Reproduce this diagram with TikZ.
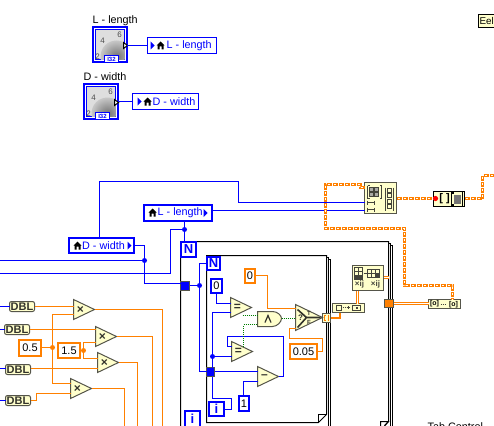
\documentclass[tikz,border=0pt]{standalone}
\usepackage{fontspec}
\setmainfont{Liberation Sans}
\usetikzlibrary{calc}
\definecolor{lvblue}{HTML}{0000FF}
\definecolor{lvorange}{HTML}{FF8000}
\definecolor{lvyellow}{HTML}{FFFFCC}
\definecolor{lvgrey}{HTML}{55554A}
\definecolor{lvgreen}{HTML}{007F00}
\tikzset{
  lbl/.style={font=\fontsize{10.8}{12}\selectfont,inner sep=0pt},
  small/.style={font=\fontsize{8}{9}\selectfont,inner sep=0pt},
  bw/.style={draw=lvblue,line width=1pt},
  ow/.style={draw=lvorange,line width=1pt},
  owthick/.style={draw=lvorange,line width=2pt},
  owdouble/.style={draw=lvorange,line width=1pt,double=white,double distance=1pt},
  gw/.style={draw=lvgreen,line width=1pt,dash pattern=on 1pt off 1pt},
  cluster/.style={draw=lvorange,line width=3pt,dash pattern=on 5pt off 1pt},
  clusterc/.style={draw=white,line width=1pt,dash pattern=on 2pt off 4pt,dash phase=4.5pt},
  bxbase/.style={inner sep=0pt,outer sep=0pt,font=\fontsize{11}{12}\selectfont},
  frameb/.style={bxbase,draw=lvblue,line width=2pt,fill=white},
  framen/.style={frameb,text=lvblue,font=\fontsize{13}{14}\bfseries\selectfont},
  frameo/.style={bxbase,draw=lvorange,line width=2pt,fill=white},
  termthin/.style={bxbase,draw=lvblue,line width=1pt,fill=white},
  ynode/.style={bxbase,draw=lvgrey,line width=1pt,fill=lvyellow},
  dbl/.style={bxbase,draw=lvgrey,line width=1pt,fill=lvyellow,rounded corners=2pt,text=lvgrey!60!black,font=\fontsize{11}{11}\bfseries\selectfont},
  tunb/.style={bxbase,draw=lvgrey,line width=1pt,fill=lvblue},
  tuno/.style={bxbase,draw=lvgrey,line width=1pt,fill=lvorange},
  jdot/.style={circle,fill=lvblue,inner sep=0pt,minimum size=5pt},
  jodot/.style={circle,fill=lvorange,inner sep=0pt,minimum size=5pt},
  loopline/.style={draw=black,line width=1pt},
  icon/.style={draw=lvgrey!80!black,line width=.8pt},
  gatefill/.style={draw=lvgrey,line width=1pt,fill=lvyellow},
  symb/.style={inner sep=0pt,text=lvgrey!60!black,font=\fontsize{12}{12}\bfseries\selectfont},
}
% boxes given by outer extents: 2pt frame, 1pt frame
\newcommand\bx[7][]{\node[#1,minimum width={(#5-#3-1)*1pt},minimum height={(#6-#4-1)*1pt}] (#2) at ({(#3+#5)/2},{(#4+#6)/2}) {#7};}
\newcommand\bxt[7][]{\node[#1,minimum width={(#5-#3)*1pt},minimum height={(#6-#4)*1pt}] (#2) at ({(#3+#5)/2},{(#4+#6)/2}) {#7};}
% triangle gate: name, left, top, tip, bottom, symbol
\newcommand\gate[6]{%
  \draw[gatefill] (#2,#3) -- (#4,{(#3+#5)/2}) -- (#2,#5) -- cycle;
  \node[inner sep=0pt,outer sep=0pt,minimum width={(#4-#2)*1pt},minimum height={(#5-#3)*1pt}] (#1) at ({(#2+#4)/2},{(#3+#5)/2}) {};
  \node[symb] at ({#2+(#4-#2)*0.33},{(#3+#5)/2}) {#6};}
% house icon
\newcommand\house[2]{\fill[black] ({#1-4},{#2}) -- ({#1},{#2-4}) -- ({#1+4},{#2}) -- ({#1+3},{#2}) -- ({#1+3},{#2+4}) -- ({#1+1},{#2+4}) -- ({#1+1},{#2+1}) -- ({#1-1},{#2+1}) -- ({#1-1},{#2+4}) -- ({#1-3},{#2+4}) -- ({#1-3},{#2}) -- cycle;}
% dial control
\newcommand\dial[3]{%
\begin{scope}[shift={(#2,#3)}]
  \node[bxbase,draw=lvblue,line width=2pt,fill=white,minimum width=34pt,minimum height=35pt] (#1) at (17.5,18) {};
  \draw[lvblue,line width=1pt,fill=black!13] (3,3) rectangle (32,33);
  \begin{scope}
    \clip (4,4) rectangle (32,33);
    \shade[inner color=black!55,outer color=black!22] (24,30) circle (16);
  \end{scope}
  \node[small,text=black!70] at (27,8) {6};
  \node[small,text=black!70] at (10,14) {4};
  \node[small,text=black!70] at (5,30) {2};
  \draw[lvblue,line width=1pt,fill=white] (12,29) rectangle (26,36);
  \node[inner sep=0pt,text=lvblue,font=\fontsize{6}{6}\bfseries\selectfont] at (19,32.5) {I32};
  \draw[black,line width=1pt,fill=white] (31,16) -- (35,19) -- (31,22) -- cycle;
\end{scope}}
\begin{document}
\begin{tikzpicture}[x=1pt,y=-1pt]
\useasboundingbox (0,0) rectangle (494,425);
\begin{scope}
\clip (0,0) rectangle (494,425);
\begin{scope}[shift={(0.5,0.5)}]

% ---- loop frames
\draw[loopline] (180,430) -- (180,241) -- (388,241) -- (388,421) -- (384,425);
\draw[loopline] (388,243) -- (390,243) -- (390,430);
\draw[loopline] (390,245) -- (392,245) -- (392,430);
\draw[loopline] (380,430) -- (380,421) -- (388,421) -- (380,430);
\draw[loopline] (206,255) -- (326,255) -- (326,414) -- (318,422) -- (206,422) -- cycle;
\draw[loopline] (318,422) -- (318,414) -- (326,414);
\draw[loopline] (326,257) -- (328,257) -- (328,430);
\draw[loopline] (328,259) -- (330,259) -- (330,430);

% ---- top controls
\node[lbl,anchor=base west] (capL) at (92,23) {L - length};
\node[lbl,anchor=base west] (capD) at (83,80) {D - width};
\dial{ctlL}{92}{26}
\dial{ctlD}{83}{83}
\bxt[termthin]{termL}{147}{37}{216}{53}{}
\fill[lvblue] (150,41) -- (154,45) -- (150,49) -- cycle;
\house{160}{45}
\node[lbl,text=lvblue,anchor=west] (txtL) at (166,45) {L - length};
\bxt[termthin]{termD}{132}{93}{198}{109}{}
\fill[lvblue] (137,97) -- (141,101) -- (137,105) -- cycle;
\house{147}{101}
\node[lbl,text=lvblue,anchor=west] (txtD) at (152,101) {D - width};
% Eel box
\bxt[bxbase,draw=black,line width=1pt,fill=lvyellow]{eel}{478}{14}{510}{27}{}
\node[inner sep=0pt,font=\fontsize{9.8}{11}\selectfont,anchor=west] (eeltxt) at (479,20.5) {Eel};

% ---- locals
\bx[frameb]{lw}{143}{204}{212}{221}{}
\house{152}{212}
\node[lbl,text=lvblue,anchor=west] (lwt) at (157,212.5) {L - length};
\fill[lvblue] (203,208.5) -- (207,212.5) -- (203,216.5) -- cycle;
\bx[frameb]{dw}{68}{237}{134}{253}{}
\house{77}{245}
\node[lbl,text=lvblue,anchor=west] (dwt) at (81.5,245) {D - width};
\fill[lvblue] (127,241) -- (131,245) -- (127,249) -- cycle;

% ---- loop terminals and tunnels
\bx[framen]{Nout}{180}{241}{196}{257}{N}
\bx[framen]{iout}{184}{410}{200}{427}{i}
\bx[framen]{Nin}{206}{256}{220}{270}{N}
\bx[framen]{iin}{208}{401}{224}{416}{i}
\bxt[tunb]{tunB}{180}{281}{189}{290}{}
\bxt[tunb]{tunI}{206}{367}{214}{376}{}
\bxt[ynode]{tunO}{322}{313}{330}{322}{}
\draw[lvorange,line width=1pt] (325,315) -- (324,315) -- (324,320) -- (325,320) (327,315) -- (328,315) -- (328,320) -- (327,320);
\bxt[tuno]{tunR}{384}{299}{393}{307}{}

% ---- constants
\bx[frameo]{c05}{18}{339}{41}{356}{0.5}
\bx[frameo]{c15}{57}{342}{80}{358}{1.5}
\bx[frameo]{czero}{244}{268}{255}{283}{0}
\bx[frameo]{cfive}{289}{343}{317}{359}{0.05}
\bx[frameb]{cbz}{210}{278}{222}{293}{0}
\bx[frameb]{cone}{238}{395}{249}{411}{1}

% ---- DBL conversions
\bxt[dbl]{d1}{9}{301}{34}{311}{DBL}
\bxt[dbl]{d2}{4}{324}{29}{334}{DBL}
\bxt[dbl]{d3}{5}{364}{30}{374}{DBL}
\bxt[dbl]{d4}{5}{395}{30}{405}{DBL}

% ---- gates
\gate{t1}{73}{299}{94}{319}{×}
\gate{t2}{95}{326}{116}{346}{×}
\gate{t3}{97}{352}{118}{372}{×}
\gate{t4}{70}{378}{91}{398}{×}
\gate{eq1}{230}{297}{251}{317}{=}
\gate{eq2}{231}{341}{252}{361}{=}
\gate{mn}{257}{366}{278}{386}{–}
\gate{sel}{295}{304}{322}{330}{}
\draw[lvgrey!60!black,line width=1.6pt] (297,309) -- (306,317) -- (320,317) (297,327) -- (306,317);
\node[inner sep=0pt,font=\fontsize{8}{8}\bfseries\selectfont,text=lvgrey!60!black] (selq) at (300,317.5) {?};
\node[inner sep=0pt,font=\fontsize{6}{6}\bfseries\selectfont,text=lvgrey!60!black] (selt) at (308.5,313) {T};
\node[inner sep=0pt,font=\fontsize{6}{6}\bfseries\selectfont,text=lvgrey!60!black] (self) at (308.5,321.5) {F};
% AND
\draw[gatefill] (257,311) -- (272,311) .. controls (277,311) and (281,315) .. (281,318) .. controls (281,321) and (277,326) .. (272,326) -- (257,326) -- cycle;
\node[inner sep=0pt,outer sep=0pt,minimum width=24pt,minimum height=15pt] (aand) at (269,318.5) {};
\draw[lvgrey!60!black,line width=1.2pt] (264.5,322) -- (267.5,315) -- (270.5,322);

% ---- converter and array nodes
\bxt[ynode]{conv}{332}{303}{364}{312}{}
\draw[icon,line width=1pt] (336,305) rectangle (341,310);
\draw[icon,line width=1pt,dash pattern=on 1pt off 1pt] (342,307) -- (348,307);
\draw[icon] (346,307) -- (349,307) (347.5,305.5) -- (347.5,308.5);
\draw[icon,line width=1pt] (352,305) rectangle (360,310);
\fill[lvgrey!80!black] (355,306.8) rectangle (357,308);
\bxt[ynode]{mat}{352}{265}{383}{290}{}
\draw[icon] (354,267) rectangle (362,279) (358,267) -- (358,279) (354,271) -- (362,271) (354,275) -- (362,275);
\fill[lvgrey!80!black] (354,275) rectangle (362,279);
\draw[icon] (367,269) rectangle (379,277) (371,269) -- (371,277) (375,269) -- (375,277) (367,273) -- (379,273);
\fill[lvgrey!80!black] (375,273) rectangle (379,277);
\draw[icon] (363,273) -- (367,273);
\node[inner sep=0pt,font=\fontsize{8}{8}\bfseries\selectfont,text=lvgrey!80!black] (matij) at (359,284) {×ij};
\node[inner sep=0pt,font=\fontsize{8}{8}\bfseries\selectfont,text=lvgrey!80!black] (matij2) at (375,284) {×ij};
\bxt[ynode]{clu}{428}{299}{460}{308}{}
\node[inner sep=0pt,font=\fontsize{7}{7}\bfseries\selectfont] (clua) at (434,303) {[o]};
\node[inner sep=0pt,font=\fontsize{7}{7}\bfseries\selectfont] (club) at (453,304) {[o]};
\draw[icon,dash pattern=on 1pt off 1pt] (440,304) -- (445,304);
\bxt[ynode]{bld}{364}{182}{396}{213}{}
\draw[icon] (367,185) -- (367,198) (381,185) -- (381,198) (367,185) -- (369,185) (367,198) -- (369,198) (381,185) -- (379,185) (381,198) -- (379,198);
\draw[icon,fill=lvgrey!50] (369,187) rectangle (373,191) (374,187) rectangle (378,191) (369,192) rectangle (373,196) (374,192) rectangle (378,196);
\draw[icon] (385,187) -- (385,210) (393,187) -- (393,210);
\draw[icon] (387,188) rectangle (391,192) (387,193) rectangle (391,197) (387,199) rectangle (391,203) (387,204) rectangle (391,208);
\draw[icon] (367,200) -- (367,204) (374,200) -- (374,204) (367,202) -- (374,202) (367,207) -- (367,211) (374,207) -- (374,211) (367,209) -- (374,209);
\bxt[bxbase,draw=black,line width=1pt,fill=lvyellow]{arr}{433}{191}{464}{206}{}
\node[inner sep=0pt,font=\fontsize{11}{11}\bfseries\selectfont] (arrt) at (444,198) {[ ]};
\draw[black,line width=1.2pt] (453,192.5) -- (451,192.5) -- (451,204.5) -- (453,204.5) (461,192.5) -- (462,192.5) -- (462,204.5) -- (461,204.5);
\fill[black!55] (453,194) rectangle (460,203);

% ---- named free ends and junctions
\node[jdot] (jD) at (144,260) {};
\node[jdot] (jL) at (184,229) {};
\node[jdot] (jI) at (199,285) {};
\node[jdot] (jE) at (212,356) {};
\node[jodot] (jO) at (52,347) {};
\node[jodot] (jF) at (83,350) {};
\coordinate (left1) at (-1,260);
\coordinate (left2) at (-1,273);
\coordinate (ld1) at (-1,306);
\coordinate (ld2) at (-1,329);
\coordinate (ld3) at (-1,368);
\coordinate (ld4) at (-1,400);
\coordinate (b1) at (162,430);
\coordinate (b2) at (152,430);
\coordinate (b3) at (137,430);
\coordinate (b4) at (124,430);
\coordinate (frameR) at (388,277);
\coordinate (endC) at (496,175);

% ---- blue wires
\draw[bw] (ctlL.east |- termL.west) -- (termL.west);
\draw[bw] (ctlD.east |- termD.west) -- (termD.west);
\draw[bw] (99,0 |- dw.north) -- (99,181) -- (238,181) -- (238,202) -- (bld.west |- 0,202);
\draw[bw] (lw.east |- 0,210) -- (bld.west |- 0,210);
\draw[bw] (jL |- lw.south) -- (jL) -- (jL |- Nout.north);
\draw[bw] (left1) -- (jD);
\draw[bw] (left2) -- (170,273) -- (170,229) -- (jL);
\draw[bw] (dw.east |- 0,245) -- (144,245) -- (jD) -- (144,283) -- (tunB.west |- 0,283);
\draw[bw] (tunB.east |- jI) -- (jI);
\draw[bw] (jI) -- (199,263) -- (Nin.west |- 0,263);
\draw[bw] (jI) -- (199,371) -- (tunI.west |- 0,371);
\draw[bw] (cbz.south) -- (216,303) -- (eq1.west |- 0,303);
\draw[bw] (jE |- tunI.north) -- (jE) -- (212,312) -- (eq1.west |- 0,312);
\draw[bw] (jE) -- (eq2.west |- jE);
\draw[bw] (212,0 |- tunI.south) -- (212,398) -- (231,398) -- (231,409) -- (iin.east |- 0,409);
\draw[bw] (tunI.east |- 0,371) -- (mn.west |- 0,371);
\draw[bw] (mn.east) -- (283,376) -- (283,336) -- (227,336) -- (227,346) -- (eq2.west |- 0,346);
\draw[bw] (243,0 |- cone.north) -- (243,381) -- (mn.west |- 0,381);
\draw[bw] (ld1) -- (d1.west);
\draw[bw] (ld2) -- (d2.west);
\draw[bw] (ld3) -- (d3.west |- ld3);
\draw[bw] (ld4) -- (d4.west);

% ---- green wires
\draw[gw] (242,315) -- (aand.west |- 0,315);
\draw[gw] (243,346) -- (243,324) -- (aand.west |- 0,324);
\draw[gw] (aand.east |- 0,318) -- (sel.west |- 0,318);

% ---- orange wires
\draw[ow] (d1.east) -- (t1.west |- d1.east);
\draw[ow] (d2.east) -- (t2.west |- d2.east);
\draw[ow] (d3.east |- ld3) -- (t3.west |- ld3);
\draw[ow] (d4.east) -- (36,400) -- (36,393) -- (t4.west |- 0,393);
\draw[ow] (t1.west |- 0,314) -- (52,314) -- (jO) -- (52,383) -- (t4.west |- 0,383);
\draw[ow] (c05.east |- jO) -- (jO);
\draw[ow] (c15.east |- jF) -- (jF);
\draw[ow] (jF) -- (83,342) -- (t2.west |- 0,342);
\draw[ow] (jF) -- (83,358) -- (t3.west |- 0,358);
\draw[ow] (t1.east) -- (162,309) -- (b1);
\draw[ow] (t2.east) -- (152,336) -- (b2);
\draw[ow] (t3.east) -- (137,362) -- (b3);
\draw[ow] (t4.east) -- (124,388) -- (b4);
\draw[ow] (czero.east |- 0,275) -- (267,275) -- (267,308) -- (sel.west |- 0,308);
\draw[ow] (cfive.east) -- (322,351) -- (322,338) -- (289,338) -- (289,328) -- (sel.west |- 0,328);
\draw[owthick] (tunO.east |- 0,317) -- (339,317) -- (339,0 |- conv.south);
\draw[owdouble] (357,0 |- conv.north) -- (357,0 |- mat.south);
\draw[owdouble] (mat.east |- frameR) -- (frameR);
\draw[owdouble] (tunR.east |- 0,303) -- (clu.west |- 0,303);

% ---- cluster wires
\draw[cluster] (bld.west |- 0,187) -- (360,187) -- (360,184) -- (325,184) -- (325,228) -- (404,228) -- (404,285) -- (452,285) -- (452,0 |- clu.north);
\draw[clusterc] (bld.west |- 0,187) -- (360,187) -- (360,184) -- (325,184) -- (325,228) -- (404,228) -- (404,285) -- (452,285) -- (452,0 |- clu.north);
\draw[cluster] (bld.east |- 0,198) -- (arr.west |- 0,198);
\draw[clusterc] (bld.east |- 0,198) -- (arr.west |- 0,198);
\draw[cluster] (arr.east |- 0,198) -- (482,198) -- (482,175) -- (endC);
\draw[clusterc] (arr.east |- 0,198) -- (482,198) -- (482,175) -- (endC);
\fill[red] (435,198) circle (2.6);

% ---- bottom text
\node[lbl,anchor=base west] (tabc) at (427,430) {Tab Control};
\end{scope}
\end{scope}
\end{tikzpicture}
\end{document}
